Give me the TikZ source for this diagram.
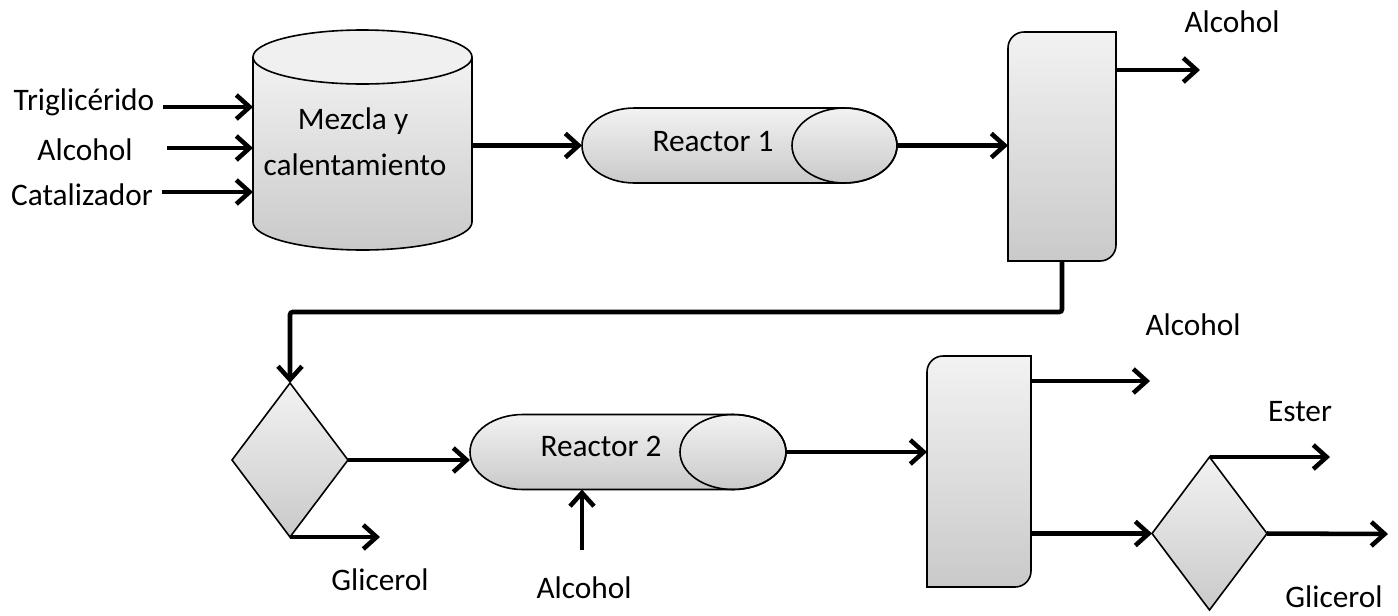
\documentclass[tikz,border=0pt]{standalone}
\usepackage{fontspec}
\setmainfont{Carlito}
\usetikzlibrary{arrows.meta,shapes.geometric}
\begin{document}
\begin{tikzpicture}[x=0.75pt,y=-0.75pt,
  every node/.style={inner sep=0pt,outer sep=0pt,font=\fontsize{23.5}{28}\selectfont},
  arr/.style={line width=3.4pt,-{Straight Barb[length=10pt,width=18pt,line width=3.4pt]}},
  shell/.style={draw=black,line width=1.2pt,top color=gray!10,bottom color=gray!42},
  outline/.style={draw=black,line width=1.2pt},
  lbl/.style={text=black}]
\useasboundingbox (0,0) rectangle (1398,615);

% --- mixing tank (cylinder) ---
\shade[top color=gray!10,bottom color=gray!42] (253,57) -- (253,222) arc[start angle=180,end angle=0,x radius=109.5,y radius=28] -- (472,57) -- cycle;
\draw[outline] (253,57) -- (253,222) arc[start angle=180,end angle=0,x radius=109.5,y radius=28] -- (472,57);
\draw[outline,fill=gray!12] (362.5,57) ellipse[x radius=109.5,y radius=27];
\node[minimum width=164.25pt,minimum height=165pt] (mix) at (362.5,140) {};
\node[lbl] (mixt1) at (353,121) {Mezcla y};
\node[lbl] (mixt2) at (355,165) {calentamiento};

% --- inputs ---
\node[lbl] (t1) at (84,102) {Triglicérido};
\node[lbl] (t2) at (85,150) {Alcohol};
\node[lbl] (t3) at (82,195) {Catalizador};
\coordinate (a1) at (163,107);
\coordinate (a2) at (167,148);
\coordinate (a3) at (162,192);
\draw[arr] (a1) -- (a1 -| mix.west);
\draw[arr] (a2) -- (a2 -| mix.west);
\draw[arr] (a3) -- (a3 -| mix.west);

% --- reactor 1 ---
\node[minimum width=236.25pt,minimum height=56.25pt] (r1) at (739.5,145.5) {};
\path[shell] ([xshift=39.375pt]r1.north west) -- ([xshift=-39.375pt]r1.north east)
  arc[start angle=-90,end angle=90,x radius=52.5,y radius=37.5]
  -- ([xshift=39.375pt]r1.south west)
  arc[start angle=90,end angle=270,x radius=52.5,y radius=37.5] -- cycle;
\draw[outline] ([xshift=-39.375pt]r1.east) ellipse[x radius=52.5,y radius=37.5];
\node[lbl] (r1t) at (713,142) {Reactor 1};

% --- separator 1 ---
\node[minimum width=81pt,minimum height=171.75pt] (s1) at (1062,146.5) {};
\path[shell] (s1.west) [rounded corners=12pt] -- (s1.north west) -- (s1.north) [sharp corners] -- (s1.north east) -- (s1.east) [rounded corners=12pt] -- (s1.south east) -- (s1.south) [sharp corners] -- (s1.south west) -- cycle;
\node[lbl] (al1) at (1232,22) {Alcohol};
\coordinate (o1) at (1200,70);

% --- diamond 1 ---
\node[diamond,shell,minimum width=87pt,minimum height=115.5pt] (d1) at (290,460) {};
\node[lbl] (g1) at (380,580) {Glicerol};
\coordinate (o2) at (380,537);

% --- reactor 2 ---
\node[minimum width=237pt,minimum height=56.25pt] (r2) at (628,452) {};
\path[shell] ([xshift=39.75pt]r2.north west) -- ([xshift=-39.75pt]r2.north east)
  arc[start angle=-90,end angle=90,x radius=53,y radius=37.5]
  -- ([xshift=39.75pt]r2.south west)
  arc[start angle=90,end angle=270,x radius=53,y radius=37.5] -- cycle;
\draw[outline] ([xshift=-39.75pt]r2.east) ellipse[x radius=53,y radius=37.5];
\node[lbl] (r2t) at (601,446) {Reactor 2};
\node[lbl] (al2) at (584,588) {Alcohol};
\coordinate (i2) at (582,550);

% --- separator 2 ---
\node[minimum width=78pt,minimum height=173.25pt] (s2) at (979,471.5) {};
\path[shell] (s2.west) [rounded corners=12pt] -- (s2.north west) -- (s2.north) [sharp corners] -- (s2.north east) -- (s2.east) [rounded corners=12pt] -- (s2.south east) -- (s2.south) [sharp corners] -- (s2.south west) -- cycle;
\node[lbl] (al3) at (1193,325) {Alcohol};
\coordinate (o3) at (1150,381);

% --- diamond 2 ---
\node[diamond,shell,minimum width=86.25pt,minimum height=114.75pt] (d2) at (1209.5,533.5) {};
\node[lbl] (es) at (1300,412) {Ester};
\node[lbl] (g2) at (1334,597) {Glicerol};
\coordinate (o4) at (1330,457);
\coordinate (o5) at (1388,534);

% --- connectors ---
\draw[arr] (mix.east |- r1.west) -- (r1.west);
\draw[arr] (r1.east) -- (r1.east -| s1.west);
\draw[arr] (o1 -| s1.east) -- (o1);
\draw[arr,rounded corners=2pt] (s1.south) -- ++(0,51) -| (d1.north);
\draw[arr] (d1.east) -- (d1.east -| r2.west);
\draw[arr] (d1.south) -- (o2);
\draw[arr] (i2) -- (i2 |- r2.south);
\draw[arr] (r2.east) -- (r2.east -| s2.west);
\draw[arr] (o3 -| s2.east) -- (o3);
\draw[arr] (s2.east |- d2.west) -- (d2.west);
\draw[arr] (d2.north) -- (o4);
\draw[arr] (d2.east) -- (o5);
\end{tikzpicture}
\end{document}
